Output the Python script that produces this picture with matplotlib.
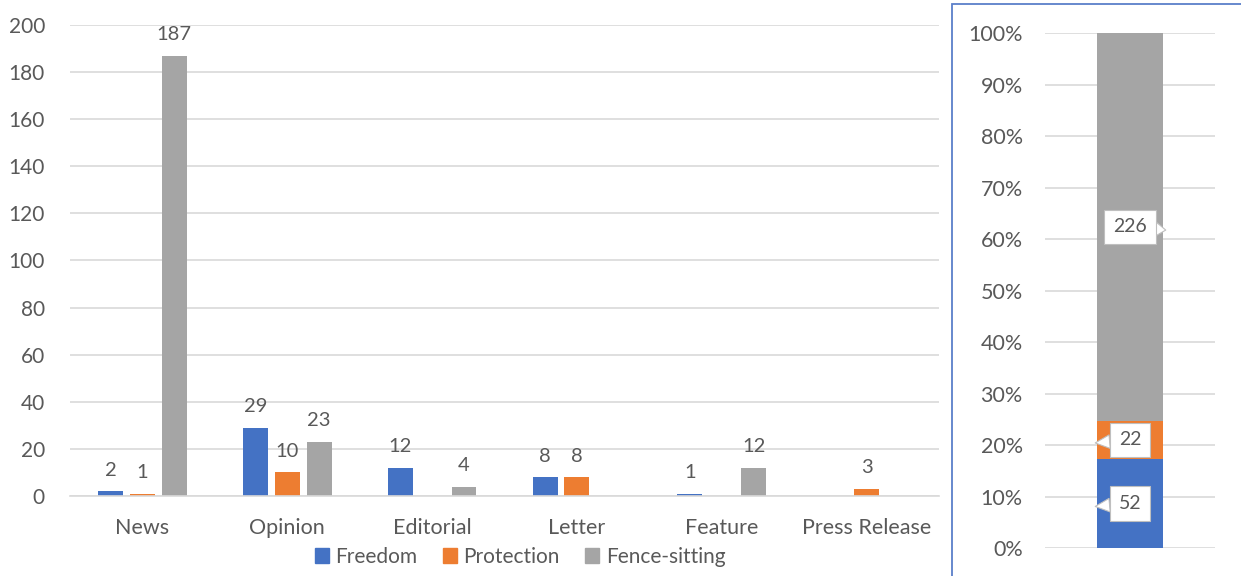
import matplotlib.pyplot as plt
import numpy as np
from matplotlib.patches import Patch, Rectangle

plt.rcParams["font.family"] = ["Lato", "DejaVu Sans"]

TEXT = "#595959"
GRID = "#D9D9D9"

categories = ["News", "Opinion", "Editorial", "Letter", "Feature", "Press Release"]
series = ["Freedom", "Protection", "Fence-sitting"]
colors = ["#4472C4", "#ED7D31", "#A5A5A5"]

freedom = [2, 29, 12, 8, 1, 0]
protection = [1, 10, 0, 8, 0, 3]
fence_sitting = [187, 23, 4, 0, 12, 0]

left_ticks = [0, 20, 40, 60, 80, 100, 120, 140, 160, 180, 200]
pct_ticks = [0, 10, 20, 30, 40, 50, 60, 70, 80, 90, 100]

fig = plt.figure(figsize=(12.41, 5.76), dpi=100)

# grouped bars by article type
ax = fig.add_axes([0.0564, 0.1389, 0.7003, 0.8177])
x = np.arange(len(categories))
width = 0.172
offsets = [-0.22, 0.0, 0.22]
for vals, off, col in zip([freedom, protection, fence_sitting], offsets, colors):
    bars = ax.bar(x + off, vals, width, color=col, zorder=2)
    for rect, v in zip(bars, vals):
        if v == 0:
            continue
        ax.annotate(str(v), (rect.get_x() + rect.get_width() / 2, v),
                    xytext=(0, 9), textcoords="offset points",
                    ha="center", va="bottom", fontsize=14.5, color=TEXT)

ax.set_xlim(-0.5, len(categories) - 0.5)
ax.set_ylim(0, 200)
ax.set_yticks(left_ticks)
ax.set_xticks(x)
ax.set_xticklabels(categories)
ax.grid(axis="y", color=GRID, linewidth=1.2, zorder=0)
ax.tick_params(axis="y", length=0, pad=18, labelsize=15, labelcolor=TEXT)
ax.tick_params(axis="x", length=0, pad=16, labelsize=15.5, labelcolor=TEXT)
for side in ["top", "right", "left"]:
    ax.spines[side].set_visible(False)
ax.spines["bottom"].set_color(GRID)
ax.spines["bottom"].set_linewidth(1.2)

handles = [Patch(color=c, label=s) for c, s in zip(colors, series)]
fig.legend(handles=handles, loc="center", bbox_to_anchor=(0.419, 0.033),
           ncol=3, frameon=False, fontsize=15, labelcolor=TEXT,
           handlelength=0.7, handleheight=0.7, handletextpad=0.3,
           columnspacing=1.2)

# overall share as a single 100% stacked bar
totals = [sum(freedom), sum(protection), sum(fence_sitting)]
grand = sum(totals)
shares = [t / grand * 100 for t in totals]

axr = fig.add_axes([0.8421, 0.0486, 0.1370, 0.8941])
bottom = 0
for i, (share, total, col) in enumerate(zip(shares, totals, colors)):
    axr.bar(0, share, 0.776, bottom=bottom, color=col, zorder=2)
    mid = bottom + share / 2
    # callout pointer: right edge for the top segment, left edge otherwise
    tip = (0.42, mid - 0.6) if i == len(totals) - 1 else (-0.41, mid - 0.6)
    axr.annotate(str(total), xy=tip, xytext=(0.0, mid),
                 ha="center", va="center", fontsize=14, color=TEXT,
                 bbox=dict(boxstyle="square,pad=0.45", fc="white", ec="#BFBFBF", lw=0.8),
                 arrowprops=dict(arrowstyle="wedge,tail_width=0.7,shrink_factor=0.5",
                                 fc="white", ec="#BFBFBF", lw=0.8, shrinkA=0, shrinkB=0),
                 zorder=3)
    bottom += share

axr.set_xlim(-1, 1)
axr.set_ylim(0, 100)
axr.set_yticks(pct_ticks)
axr.set_yticklabels([f"{t}%" for t in pct_ticks])
axr.set_xticks([])
axr.grid(axis="y", color=GRID, linewidth=1.2, zorder=0)
axr.tick_params(axis="y", length=0, pad=16, labelsize=15.5, labelcolor=TEXT)
for side in ["top", "right", "left", "bottom"]:
    axr.spines[side].set_visible(False)

# frame around the right panel
fig.patches.append(Rectangle((952 / 1241, -0.05), 0.3, 0.05 + 572 / 576,
                             transform=fig.transFigure, fill=False,
                             ec="#5B7FC9", lw=1.3))

fig.savefig("out.png", dpi=100, facecolor="white")
